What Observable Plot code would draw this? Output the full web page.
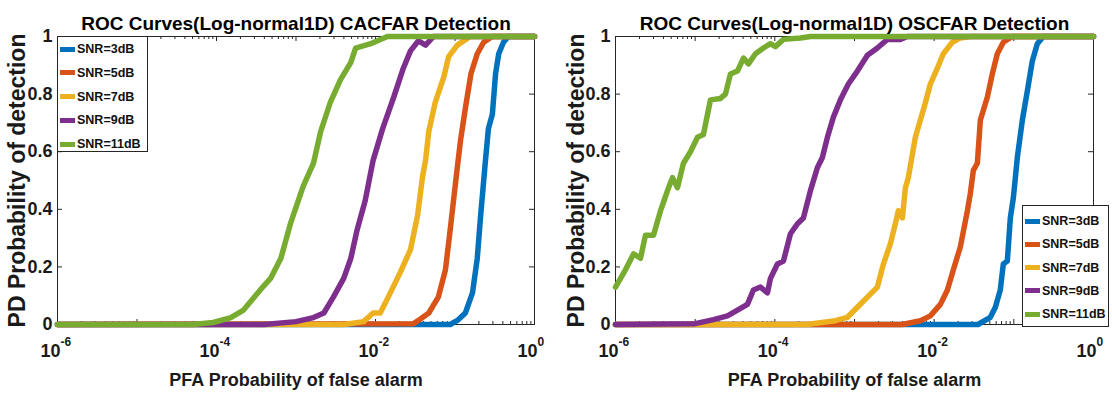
<!DOCTYPE html>
<html>
<head>
<meta charset="utf-8">
<script src="https://cdn.jsdelivr.net/npm/d3@7"></script>
<script src="https://cdn.jsdelivr.net/npm/@observablehq/plot@0.6"></script>
<style>
  html, body { margin: 0; padding: 0; background: #fff; }
  #charts { display: flex; width: 1112px; height: 403px; font-family: "Liberation Sans", Arial, sans-serif; }
  .chart { position: relative; width: 556px; height: 403px; }
  .legend { position: absolute; box-sizing: border-box; border: 1px solid #262626; background: #fff; }
  .legend .item { position: absolute; left: 0; height: 14px; display: flex; align-items: center; }
  .legend .sw { width: 15px; height: 5px; margin-left: 2px; margin-right: 2px; }
  .legend .lab { font-size: 12.5px; font-weight: bold; color: #111; white-space: nowrap; }
</style>
</head>
<body>
<div id="charts"></div>
<script>
// Series names and MATLAB default line colours
const seriesNames = ["SNR=3dB", "SNR=5dB", "SNR=7dB", "SNR=9dB", "SNR=11dB"];
const seriesColors = ["#0072BD", "#D95319", "#EDB120", "#7E2F8E", "#77AC30"];

// Axis ticks
const pdTicks = [0, 0.2, 0.4, 0.6, 0.8, 1];
const pfaDecades = [-6, -5, -4, -3, -2, -1, 0];
const pfaLabelDecades = [-6, -4, -2, 0];

// CA-CFAR ROC points: [log10(PFA), PD]
const ca3dB = [[-6,0],[-1.06,0],[-0.97,0.014],[-0.87,0.04],[-0.78,0.11],[-0.72,0.23],[-0.68,0.37],[-0.62,0.56],[-0.58,0.68],[-0.53,0.73],[-0.49,0.87],[-0.45,0.94],[-0.39,0.98],[-0.33,1],[0,1]];
const ca5dB = [[-6,0],[-1.52,0.003],[-1.43,0.02],[-1.33,0.04],[-1.21,0.095],[-1.12,0.19],[-1.06,0.33],[-0.99,0.5],[-0.93,0.64],[-0.87,0.75],[-0.8,0.87],[-0.72,0.94],[-0.64,0.98],[-0.53,1],[0,1]];
const ca7dB = [[-6,0],[-2.4,0],[-2.15,0.01],[-2.03,0.04],[-1.94,0.04],[-1.84,0.095],[-1.69,0.18],[-1.56,0.26],[-1.47,0.38],[-1.41,0.51],[-1.37,0.57],[-1.33,0.67],[-1.25,0.77],[-1.14,0.86],[-1.08,0.93],[-0.97,0.97],[-0.81,1],[0,1]];
const ca9dB = [[-6,0],[-3.4,0],[-3.0,0.01],[-2.78,0.024],[-2.65,0.04],[-2.53,0.095],[-2.4,0.16],[-2.31,0.23],[-2.23,0.33],[-2.13,0.43],[-2.03,0.57],[-1.91,0.68],[-1.77,0.79],[-1.65,0.89],[-1.56,0.95],[-1.46,0.985],[-1.37,0.97],[-1.27,1],[0,1]];
const ca11dB = [[-6,0],[-4.3,0],[-4.04,0.007],[-3.82,0.024],[-3.66,0.05],[-3.45,0.12],[-3.32,0.16],[-3.19,0.23],[-3.07,0.35],[-2.91,0.48],[-2.78,0.56],[-2.69,0.67],[-2.57,0.77],[-2.44,0.85],[-2.31,0.91],[-2.25,0.96],[-2.06,0.975],[-1.85,1],[0,1]];

// OS-CFAR ROC points: [log10(PFA), PD]
const os3dB = [[-6,0],[-1.45,0],[-1.295,0.025],[-1.232,0.06],[-1.17,0.12],[-1.132,0.21],[-1.082,0.22],[-1.044,0.37],[-1.006,0.44],[-0.956,0.58],[-0.893,0.71],[-0.831,0.81],[-0.768,0.915],[-0.705,0.975],[-0.63,1],[0,1]];
const os5dB = [[-6,0],[-2.4,0],[-2.173,0.013],[-2.048,0.03],[-1.922,0.07],[-1.834,0.12],[-1.759,0.19],[-1.671,0.27],[-1.583,0.395],[-1.546,0.455],[-1.508,0.535],[-1.458,0.56],[-1.42,0.71],[-1.332,0.79],[-1.27,0.87],[-1.207,0.94],[-1.132,0.98],[-1.019,1],[0,1]];
const os7dB = [[-6,0],[-3.6,0],[-3.265,0.012],[-3.089,0.025],[-2.964,0.06],[-2.838,0.095],[-2.713,0.13],[-2.637,0.21],[-2.55,0.28],[-2.487,0.35],[-2.449,0.395],[-2.399,0.37],[-2.361,0.475],[-2.324,0.51],[-2.274,0.59],[-2.236,0.65],[-2.173,0.71],[-2.11,0.77],[-2.048,0.835],[-1.96,0.89],[-1.885,0.94],[-1.772,0.98],[-1.671,0.995],[-1.546,1],[0,1]];
const os9dB = [[-6,0],[-5.0,0.003],[-4.77,0.017],[-4.595,0.03],[-4.469,0.05],[-4.344,0.07],[-4.269,0.12],[-4.181,0.13],[-4.093,0.11],[-4.055,0.16],[-3.967,0.21],[-3.892,0.22],[-3.804,0.315],[-3.716,0.35],[-3.641,0.37],[-3.553,0.465],[-3.465,0.545],[-3.403,0.58],[-3.34,0.65],[-3.265,0.72],[-3.177,0.78],[-3.077,0.835],[-2.964,0.88],[-2.838,0.935],[-2.713,0.96],[-2.587,0.99],[-2.424,0.99],[-2.336,1],[0,1]];
const os11dB = [[-6,0.13],[-5.875,0.19],[-5.774,0.245],[-5.686,0.23],[-5.624,0.31],[-5.523,0.31],[-5.435,0.395],[-5.347,0.465],[-5.285,0.51],[-5.222,0.475],[-5.147,0.56],[-5.059,0.6],[-4.971,0.65],[-4.896,0.66],[-4.808,0.78],[-4.683,0.785],[-4.62,0.8],[-4.557,0.87],[-4.469,0.88],[-4.394,0.925],[-4.331,0.905],[-4.243,0.94],[-4.143,0.96],[-4.055,0.975],[-3.993,0.965],[-3.892,0.99],[-3.679,0.995],[-3.553,1],[0,1]];

const textColor = "#1a1a1a";
const axisColor = "#262626";

function toRows(seriesList) {
  return seriesList.flatMap((pts, i) =>
    pts.map(([e, pd]) => ({snr: seriesNames[i], pfa: 10 ** e, pd})));
}

function rocChart({title, series, marginLeft, marginRight, yLabelDx, legend}) {
  const width = 556, height = 403, marginTop = 36, marginBottom = 79;
  const innerW = width - marginLeft - marginRight;
  const innerH = height - marginTop - marginBottom;
  const rows = toRows(series);
  const majorX = pfaDecades.map(d => 10 ** d);
  const minorX = pfaDecades.slice(0, -1).flatMap(d => [2, 3, 4, 5, 6, 7, 8, 9].map(m => m * 10 ** d));

  const svg = Plot.plot({
    width, height, marginTop, marginBottom, marginLeft, marginRight,
    style: {fontFamily: "'Liberation Sans', Arial, sans-serif", background: "#fff", overflow: "visible"},
    x: {type: "log", domain: [1e-6, 1], axis: null},
    y: {domain: [0, 1], axis: null},
    color: {domain: seriesNames, range: seriesColors},
    marks: [
      // inward ticks on all four sides
      Plot.ruleX(majorX, {x: d => d, insetTop: innerH - 5, stroke: axisColor}),
      Plot.ruleX(majorX, {x: d => d, insetBottom: innerH - 5, stroke: axisColor}),
      Plot.ruleX(minorX, {x: d => d, insetTop: innerH - 3, stroke: axisColor}),
      Plot.ruleX(minorX, {x: d => d, insetBottom: innerH - 3, stroke: axisColor}),
      Plot.ruleY(pdTicks, {y: d => d, insetRight: innerW - 5, stroke: axisColor}),
      Plot.ruleY(pdTicks, {y: d => d, insetLeft: innerW - 5, stroke: axisColor}),
      Plot.frame({stroke: axisColor, strokeWidth: 1}),
      // ROC curves
      Plot.line(rows, {x: "pfa", y: "pd", z: "snr", stroke: "snr", strokeWidth: 5.5, strokeLinejoin: "round", curve: "linear"}),
      // y tick labels
      Plot.text(pdTicks, {y: d => d, text: d => String(d), frameAnchor: "left", textAnchor: "end", dx: -5,
        fontSize: 18, fontWeight: "bold", fill: textColor}),
      // x tick labels: base and exponent
      Plot.text(pfaLabelDecades, {x: d => 10 ** d, text: () => "10", frameAnchor: "bottom", textAnchor: "end", dx: 3, dy: 32,
        fontSize: 18, fontWeight: "bold", fill: textColor}),
      Plot.text(pfaLabelDecades, {x: d => 10 ** d, text: d => String(d), frameAnchor: "bottom", textAnchor: "start", dx: 3, dy: 21,
        fontSize: 12, fontWeight: "bold", fill: textColor}),
      // axis titles and chart title
      Plot.text(["PFA Probability of false alarm"], {frameAnchor: "bottom", dy: 61,
        fontSize: 18, fontWeight: "bold", fill: textColor}),
      Plot.text(["PD Probability of detection"], {frameAnchor: "left", textAnchor: "middle", rotate: -90, dx: yLabelDx,
        fontSize: 23, fontWeight: "bold", fill: textColor}),
      Plot.text([title], {frameAnchor: "top", dy: -20,
        fontSize: 19, fontWeight: "bold", fill: "#000"})
    ]
  });

  const wrap = document.createElement("div");
  wrap.className = "chart";
  wrap.appendChild(svg);

  const box = document.createElement("div");
  box.className = "legend";
  Object.assign(box.style, {left: legend.left + "px", top: legend.top + "px", width: legend.width + "px", height: legend.height + "px"});
  seriesNames.forEach((name, i) => {
    const item = document.createElement("div");
    item.className = "item";
    item.style.top = (legend.firstRow + i * legend.rowStep - 7) + "px";
    const sw = document.createElement("span");
    sw.className = "sw";
    sw.style.background = seriesColors[i];
    const lab = document.createElement("span");
    lab.className = "lab";
    lab.textContent = name;
    item.append(sw, lab);
    box.appendChild(item);
  });
  wrap.appendChild(box);
  return wrap;
}

const host = document.getElementById("charts");
host.appendChild(rocChart({
  title: "ROC Curves(Log-normal1D) CACFAR Detection",
  series: [ca3dB, ca5dB, ca7dB, ca9dB, ca11dB],
  marginLeft: 57, marginRight: 22, yLabelDx: -40,
  legend: {left: 57, top: 36, width: 91, height: 116, firstRow: 12, rowStep: 23.8}
}));
host.appendChild(rocChart({
  title: "ROC Curves(Log-normal1D) OSCFAR Detection",
  series: [os3dB, os5dB, os7dB, os9dB, os11dB],
  marginLeft: 59, marginRight: 19, yLabelDx: -39,
  legend: {left: 466, top: 205, width: 87, height: 122, firstRow: 15, rowStep: 23.3}
}));
</script>
</body>
</html>
